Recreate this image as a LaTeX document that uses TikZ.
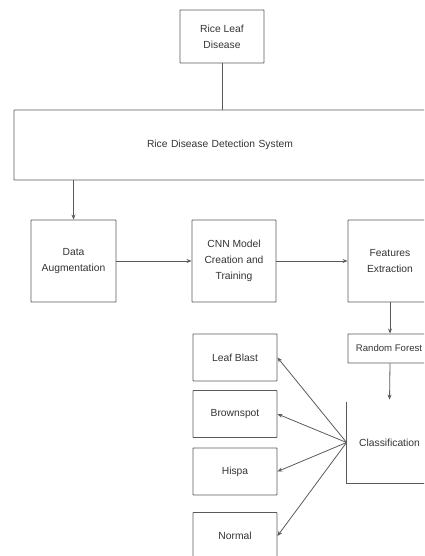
\documentclass[tikz,border=0pt]{standalone}
\usepackage{fontspec}
\setmainfont{Liberation Sans}
\usetikzlibrary{arrows.meta}
\definecolor{ln}{HTML}{5A5A5A}
\definecolor{tx}{HTML}{333333}
\tikzset{
  box/.style={draw=ln, line width=0.9pt, rectangle, rounded corners=0.5pt, align=center, text=tx,
    font=\fontsize{10.3}{16}\selectfont, inner sep=0pt},
  conn/.style={draw=ln, line width=0.8pt},
  arr/.style={conn, -{Stealth[length=5pt,width=4pt]}}
}
\begin{document}
\begin{tikzpicture}[x=1pt,y=-1pt]
\useasboundingbox (0,0) rectangle (424,556);
\clip (0,0) rectangle (424,556);
\node[box, minimum width=84pt, minimum height=53pt] (rld) at (222,36.5) {Rice Leaf\\Disease};
\node[box, minimum width=426pt, minimum height=70pt, text width=420pt] (rdds) at (227,145) {\hspace*{-14pt}Rice Disease Detection System};
\node[box, minimum width=85pt, minimum height=82pt] (da) at (73.5,261) {Data\\Augmentation};
\node[box, minimum width=84pt, minimum height=82pt] (cnn) at (234,261) {CNN Model\\Creation and\\Training};
\node[box, minimum width=84pt, minimum height=82pt] (fe) at (390,261) {Features\\Extraction};
\node[box, minimum width=84pt, minimum height=29pt, font=\fontsize{9.6}{16}\selectfont] (rf) at (390,348.5) {\hspace*{-2pt}Random Forest};
\node[box, draw=none, minimum width=85pt, minimum height=81pt] (cls) at (389.5,442.5) {Classification};
\draw[conn] (cls.north west) -- (cls.south west) -- (cls.south east);
\node[box, minimum width=84pt, minimum height=47pt] (lb) at (235,357.5) {Leaf Blast};
\node[box, minimum width=84pt, minimum height=47pt] (bs) at (235,414) {Brownspot};
\node[box, minimum width=84pt, minimum height=47pt] (hi) at (235,471.5) {Hispa};
\node[box, minimum width=84pt, minimum height=47pt] (no) at (235,536) {Normal};

\draw[conn] (rld.south) -- (rld.south |- rdds.north);
\draw[arr] (da.north |- rdds.south) -- (da.north);
\draw[arr] (da.east) -- (cnn.west);
\draw[arr] (cnn.east) -- (fe.west);
\draw[arr] (fe.south) -- (rf.north);
\draw[arr, shorten >=2pt] (rf.south) -- (cls.north);
\draw[arr] (cls.west) -- (lb.east);
\draw[arr] (cls.west) -- (bs.east);
\draw[arr] (cls.west) -- (hi.east);
\draw[arr] (cls.west) -- (no.east);
\end{tikzpicture}
\end{document}
